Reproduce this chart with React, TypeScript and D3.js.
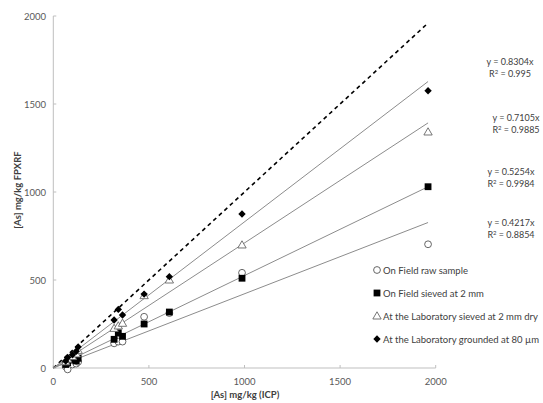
import React, { useEffect } from 'react';
import * as d3 from 'd3';

// ICP values of the samples (x), shared by all four preparations
const icp = [65, 75, 100, 120, 130, 318, 340, 362, 475, 607, 987, 1960];

// FPXRF readings per preparation (y)
const rawField = [8, -8, 20, 25, 35, 140, 150, 150, 291, 312, 541, 703];
const sievedField = [20, 30, 45, 40, 55, 163, 200, 180, 250, 318, 510, 1030];
const sievedLab = [35, 50, 65, 80, 100, 225, 239, 254, 411, 500, 699, 1341];
const groundLab = [40, 60, 75, 95, 120, 273, 333, 301, 420, 519, 875, 1575];

const slopes = [0.4217, 0.5254, 0.7105, 0.8304];
const r2 = ['0.8854', '0.9984', '0.9885', '0.995'];
const seriesNames = [
  'On Field raw sample',
  'On Field sieved at 2 mm',
  'At the Laboratory sieved at 2 mm dry',
  'At the Laboratory grounded at 80 µm',
];
const ticks = [0, 500, 1000, 1500, 2000];

const W = 543;
const H = 403;
const font = 'Lato, "Open Sans", sans-serif';

const x = d3.scaleLinear().domain([0, 2000]).range([53.3, 435.7]);
const y = d3.scaleLinear().domain([0, 2000]).range([368, 16]);

// where the equation labels sit (pixel positions)
const eqPos = [
  { cx: 511, cy: 226 },
  { cx: 511, cy: 175 },
  { cx: 516, cy: 121 },
  { cx: 510, cy: 65 },
];

const Marker = ({ kind, cx, cy }: { kind: number; cx: number; cy: number }) => {
  if (kind === 0) return <circle cx={cx} cy={cy} r={3.4} fill="#fff" stroke="#555" strokeWidth={0.9} />;
  if (kind === 1) return <rect x={cx - 3.4} y={cy - 3.4} width={6.8} height={6.8} fill="#000" />;
  if (kind === 2) {
    const p = d3.symbol().type(d3.symbolTriangle).size(30)();
    return <path d={p || ''} transform={`translate(${cx},${cy + 0.6})`} fill="#fff" stroke="#666" strokeWidth={0.9} />;
  }
  return <rect x={-2.6} y={-2.6} width={5.2} height={5.2} fill="#000" transform={`translate(${cx},${cy}) rotate(45)`} />;
};

export default function App() {
  useEffect(() => {
    document.body.style.margin = '0';
  }, []);

  const series = [rawField, sievedField, sievedLab, groundLab];
  const xMax = d3.max(icp) as number;
  const line = d3.line<number>().x(d => x(d)).y(d => y(d));

  return (
    <svg width={W} height={H} style={{ display: 'block', background: '#fff' }} fontFamily={font}>
      {/* axes */}
      <line x1={x(0)} x2={x(2000)} y1={y(0)} y2={y(0)} stroke="#bfbfbf" />
      <line x1={x(0)} x2={x(0)} y1={y(0)} y2={y(2000)} stroke="#bfbfbf" />
      {ticks.map(t => (
        <g key={'x' + t}>
          <line x1={x(t)} x2={x(t)} y1={y(0)} y2={y(0) - 3} stroke="#bfbfbf" />
          <text x={x(t)} y={385} textAnchor="middle" fontSize={9.5} fill="#595959">{t}</text>
        </g>
      ))}
      {ticks.map(t => (
        <g key={'y' + t}>
          <line x1={x(0)} x2={x(0) + 3} y1={y(t)} y2={y(t)} stroke="#bfbfbf" />
          <text x={46} y={y(t) + 3.5} textAnchor="end" fontSize={9.5} fill="#595959">{t}</text>
        </g>
      ))}
      <text x={245} y={398} textAnchor="middle" fontSize={9.5} fontWeight="bold" fill="#404040">[As] mg/kg (ICP)</text>
      <text transform="translate(21,190) rotate(-90)" textAnchor="middle" fontSize={9.5} fontWeight="bold" fill="#404040">[As] mg/kg FPXRF</text>

      {/* 1:1 line */}
      <path d={line([0, xMax]) || ''} stroke="#000" strokeWidth={1.6} strokeDasharray="4,3.5" fill="none" />

      {/* trend lines through the origin */}
      {slopes.map((s, i) => (
        <line key={'t' + i} x1={x(0)} y1={y(0)} x2={x(xMax)} y2={y(s * xMax)} stroke="#8c8c8c" strokeWidth={1} />
      ))}

      {/* points */}
      {series.map((vals, k) => (
        <g key={'s' + k}>
          {vals.map((v, i) => (
            <Marker key={i} kind={k} cx={x(icp[i])} cy={y(v)} />
          ))}
        </g>
      ))}

      {/* equations */}
      {slopes.map((s, i) => (
        <g key={'e' + i} fontSize={9} fill="#404040" textAnchor="middle">
          <text x={eqPos[i].cx} y={eqPos[i].cy}>{`y = ${s}x`}</text>
          <text x={eqPos[i].cx} y={eqPos[i].cy + 12}>
            R<tspan dy={-3} fontSize={6}>2</tspan><tspan dy={3}>{` = ${r2[i]}`}</tspan>
          </text>
        </g>
      ))}

      {/* legend */}
      {seriesNames.map((n, i) => (
        <g key={'l' + i}>
          <Marker kind={i} cx={377} cy={270 + i * 23} />
          <text x={383} y={270 + i * 23 + 3.5} fontSize={9.5} fill="#404040">{n}</text>
        </g>
      ))}
    </svg>
  );
}
